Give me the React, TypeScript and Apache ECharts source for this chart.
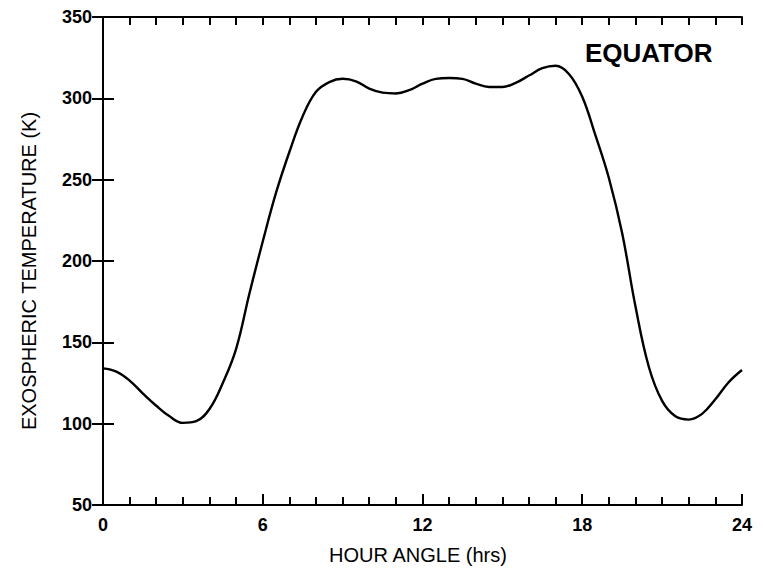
import React, { useEffect, useRef } from "react";
import * as echarts from "echarts";

// Hour angle (hrs) and exospheric temperature (K) along the equator
const hours = [
  0, 0.5, 1, 1.5, 2, 2.5, 3, 3.5, 4, 4.5, 5, 5.5, 6, 6.5, 7, 7.5, 8, 8.5, 9, 9.5,
  10, 10.5, 11, 11.5, 12, 12.5, 13, 13.5, 14, 14.5, 15, 15.5, 16, 16.5, 17, 17.5,
  18, 18.5, 19, 19.5, 20, 20.5, 21, 21.5, 22, 22.5, 23, 23.5, 24,
];
const temperature = [
  134, 132, 126.5, 118.5, 111, 104.5, 100.5, 101.5, 109, 125, 146, 180, 212, 242,
  267, 289, 304, 310, 312, 310.5, 306, 303.5, 303, 305, 309, 312, 312.5, 312, 309,
  307, 307, 309.5, 314, 318.5, 320, 315, 301, 277, 251, 217, 172, 135, 114, 104.5,
  102.5, 106, 115, 125.5, 133,
];
const xTicks = [0, 6, 12, 18, 24];
const yTicks = [50, 100, 150, 200, 250, 300, 350];

const FONT = "'Liberation Sans', Arial, Helvetica, sans-serif";

export default function App() {
  const ref = useRef<HTMLDivElement>(null);

  useEffect(() => {
    if (!ref.current) return;
    const chart = echarts.init(ref.current, null, { renderer: "svg" });
    const axisLine = { show: true, lineStyle: { color: "#000", width: 2 } };
    const tickStyle = { color: "#000", width: 2 };
    const points = hours.map((h, i) => [h, temperature[i]]);

    chart.setOption({
      animation: false,
      backgroundColor: "#fff",
      grid: { left: 95, right: 12, top: 9, bottom: 63, containLabel: false },
      xAxis: [
        {
          type: "value",
          position: "bottom",
          min: xTicks[0],
          max: xTicks[xTicks.length - 1],
          interval: 6,
          axisLine,
          axisTick: { show: true, inside: true, length: 11, lineStyle: tickStyle },
          minorTick: { show: true, splitNumber: 6, length: 8, lineStyle: tickStyle },
          splitLine: { show: false },
          axisLabel: { color: "#000", fontSize: 18, fontWeight: "bold", fontFamily: FONT, margin: 11 },
        },
        {
          type: "value",
          position: "top",
          min: 0,
          max: 24,
          interval: 1,
          axisLine,
          axisTick: { show: true, inside: true, length: 8, lineStyle: tickStyle },
          axisLabel: { show: false },
          splitLine: { show: false },
        },
      ],
      yAxis: [
        {
          type: "value",
          position: "left",
          min: yTicks[0],
          max: yTicks[yTicks.length - 1],
          interval: 50,
          axisLine,
          axisTick: { show: true, inside: true, length: 11, lineStyle: tickStyle },
          splitLine: { show: false },
          axisLabel: { color: "#000", fontSize: 18, fontWeight: "bold", fontFamily: FONT, margin: 11 },
        },
        {
          type: "value",
          position: "right",
          min: 50,
          max: 350,
          interval: 50,
          axisLine,
          axisTick: { show: true, inside: true, length: 11, lineStyle: tickStyle },
          axisLabel: { show: false },
          splitLine: { show: false },
        },
      ],
      graphic: [
        {
          type: "text",
          x: 577,
          y: 45,
          style: {
            text: "EQUATOR",
            fill: "#000",
            font: `bold 26px ${FONT}`,
            textAlign: "left",
            textVerticalAlign: "middle",
          },
        },
        {
          type: "text",
          x: 410,
          y: 547,
          style: {
            text: "HOUR ANGLE (hrs)",
            fill: "#000",
            font: `20px ${FONT}`,
            textAlign: "center",
            textVerticalAlign: "middle",
          },
        },
        {
          type: "text",
          x: 21,
          y: 263,
          rotation: Math.PI / 2,
          style: {
            text: "EXOSPHERIC TEMPERATURE (K)",
            fill: "#000",
            font: `20px ${FONT}`,
            textAlign: "center",
            textVerticalAlign: "middle",
          },
        },
      ],
      series: [
        {
          type: "line",
          xAxisIndex: 0,
          yAxisIndex: 0,
          data: points,
          smooth: 0.4,
          showSymbol: false,
          lineStyle: { color: "#000", width: 2.4 },
        },
      ],
    });

    return () => chart.dispose();
  }, []);

  return <div ref={ref} style={{ width: 747, height: 560 }} />;
}
